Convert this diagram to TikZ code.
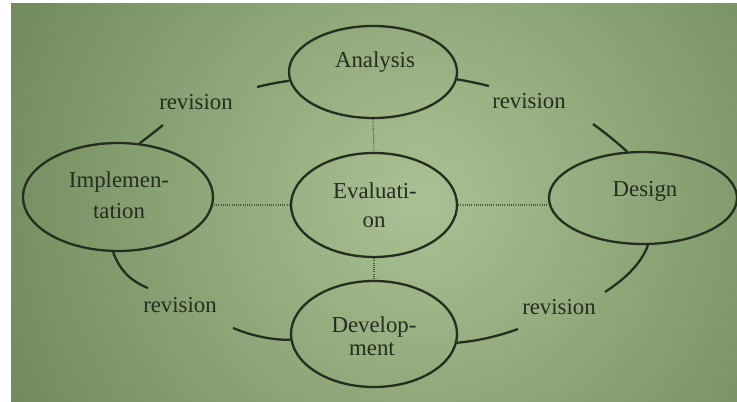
\documentclass[tikz,border=0pt]{standalone}
\usepackage{fontspec}
\setmainfont{Liberation Serif}
\usetikzlibrary{shapes.geometric,calc}
\definecolor{ink}{HTML}{262C20}
\definecolor{bgdark}{HTML}{5E7849}
\definecolor{bglight}{HTML}{A9C193}
\definecolor{dotc}{HTML}{4E5A44}
\begin{document}
\begin{tikzpicture}[x=0.5pt,y=-0.5pt,
  stage/.style={ellipse, draw=ink, line width=1.15pt, inner sep=0pt},
  lbl/.style={text=ink, font=\fontsize{11.4}{13}\selectfont, inner sep=0pt, anchor=base},
  rev/.style={draw=ink, line width=1.15pt},
  link/.style={draw=dotc, line width=0.55pt, dash pattern=on 0.5pt off 0.6pt}]
\useasboundingbox (0,0) rectangle (737,401);
\fill[white] (0,0) rectangle (737,401);
\begin{scope}
\clip (11,4) rectangle (737,401);
\shade[inner color=bglight, outer color=bgdark] (-190,-400) rectangle (1030,800);
\end{scope}

% stages
\node[stage, minimum width=84pt, minimum height=46pt] (A) at (373,72) {};
\node[stage, minimum width=95pt, minimum height=54pt] (I) at (118,197) {};
\node[stage, minimum width=83pt, minimum height=52pt] (E) at (374,205) {};
\node[stage, minimum width=94pt, minimum height=46pt] (D) at (643,198) {};
\node[stage, minimum width=83pt, minimum height=53pt] (V) at (374,334) {};

% stage texts
\node[lbl] (tA) at (375,68) {Analysis};
\node[lbl] (tI1) at (119,187) {Implemen-};
\node[lbl] (tI2) at (119,218) {tation};
\node[lbl] (tE1) at (375,198) {Evaluati-};
\node[lbl] (tE2) at (374,227) {on};
\node[lbl] (tD) at (645,196) {Design};
\node[lbl] (tV1) at (374,332) {Develop-};
\node[lbl] (tV2) at (372,355) {ment};

% revision labels
\node[lbl] (r1) at (196,109) {revision};
\node[lbl] (r2) at (529,108) {revision};
\node[lbl] (r3) at (180,312) {revision};
\node[lbl] (r4) at (559,314) {revision};

% dotted links to evaluation
\draw[link] (A.south) -- (E.north);
\draw[link] (E.south) -- (V.north);
\draw[link] (E.west) -- (E.west -| I.east);
\draw[link] (E.east) -- (E.east -| D.west);

% free ends of revision arcs and their bend points
\coordinate (a1) at (257,87);   \coordinate (ca1) at (273,83);
\coordinate (a2) at (489,86);   \coordinate (ca2) at (473,82);
\coordinate (i1) at (163,125);  \coordinate (ci1) at (152,134);
\coordinate (i2) at (148,288);  \coordinate (ci2) at (122,278);
\coordinate (d1) at (593,124);  \coordinate (cd1) at (611,137);
\coordinate (d2) at (605,292);  \coordinate (cd2) at (639,270);
\coordinate (v1) at (518,329);  \coordinate (cv1) at (488,340);
\coordinate (v2) at (233,328);  \coordinate (cv2) at (262,340);

% revision arcs (quadratic curves)
\draw[rev] (A.186) .. controls ($(A.186)!0.667!(ca1)$) and ($(a1)!0.667!(ca1)$) .. (a1);
\draw[rev] (A.355) .. controls ($(A.355)!0.667!(ca2)$) and ($(a2)!0.667!(ca2)$) .. (a2);
\draw[rev] (I.68) .. controls ($(I.68)!0.667!(ci1)$) and ($(i1)!0.667!(ci1)$) .. (i1);
\draw[rev] (I.265) .. controls ($(I.265)!0.667!(ci2)$) and ($(i2)!0.667!(ci2)$) .. (i2);
\draw[rev] (D.109) .. controls ($(D.109)!0.667!(cd1)$) and ($(d1)!0.667!(cd1)$) .. (d1);
\draw[rev] (D.276) .. controls ($(D.276)!0.667!(cd2)$) and ($(d2)!0.667!(cd2)$) .. (d2);
\draw[rev] (V.354) .. controls ($(V.354)!0.667!(cv1)$) and ($(v1)!0.667!(cv1)$) .. (v1);
\draw[rev] (V.184) .. controls ($(V.184)!0.667!(cv2)$) and ($(v2)!0.667!(cv2)$) .. (v2);
\end{tikzpicture}
\end{document}
